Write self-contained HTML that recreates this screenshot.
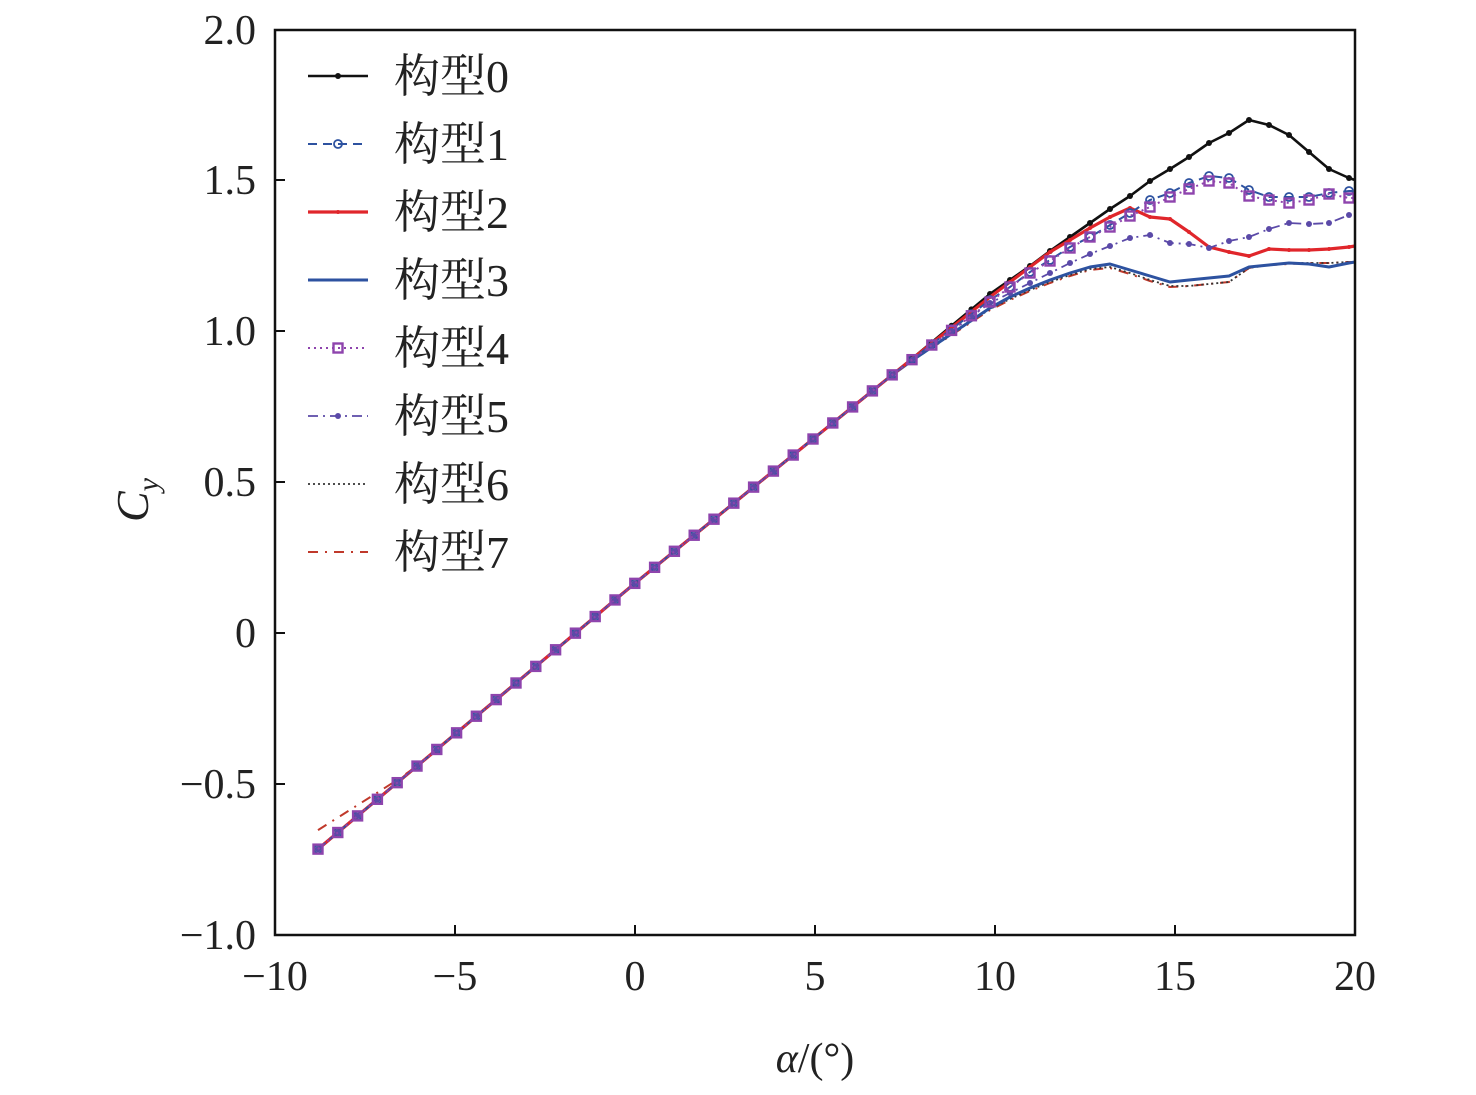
<!DOCTYPE html>
<html><head><meta charset="utf-8"><style>
html,body{margin:0;padding:0;background:#fff;}
svg text{font-family:"Liberation Serif","Times New Roman","Noto Serif CJK SC",serif;}
</style></head><body>
<svg id="s" width="1476" height="1090" viewBox="0 0 1476 1090" xmlns="http://www.w3.org/2000/svg">
<rect width="1476" height="1090" fill="#fff"/>
<g id="curves"></g>
<rect x="275" y="30" width="1080" height="905" fill="none" stroke="#111" stroke-width="2.5"/>
<g stroke="#111" stroke-width="2">
<line x1="275" y1="180" x2="285" y2="180"/><line x1="275" y1="331" x2="285" y2="331"/><line x1="275" y1="482" x2="285" y2="482"/><line x1="275" y1="633" x2="285" y2="633"/><line x1="275" y1="784" x2="285" y2="784"/>
<line x1="455" y1="935" x2="455" y2="925"/><line x1="635" y1="935" x2="635" y2="925"/><line x1="815" y1="935" x2="815" y2="925"/><line x1="995" y1="935" x2="995" y2="925"/><line x1="1175" y1="935" x2="1175" y2="925"/>
</g>
<g font-size="42" fill="#222" text-anchor="end">
<text x="256" y="44">2.0</text><text x="256" y="194">1.5</text><text x="256" y="345">1.0</text><text x="256" y="496">0.5</text><text x="256" y="647">0</text><text x="256" y="798">−0.5</text><text x="256" y="949">−1.0</text>
</g>
<g font-size="42" fill="#222" text-anchor="middle">
<text x="275" y="990">−10</text><text x="455" y="990">−5</text><text x="635" y="990">0</text><text x="815" y="990">5</text><text x="995" y="990">10</text><text x="1175" y="990">15</text><text x="1355" y="990">20</text>
<text x="815" y="1072"><tspan font-style="italic">α</tspan>/(°)</text>
</g>
<text x="148" y="500" font-size="46" fill="#222" transform="rotate(-90 148 500)" text-anchor="middle"><tspan font-style="italic">C</tspan><tspan font-style="italic" font-size="30" dy="10">y</tspan></text>
<g id="legend"></g>
</svg>
<script>
var NS="http://www.w3.org/2000/svg";
function el(t,a,p){var e=document.createElementNS(NS,t);for(var k in a)e.setAttribute(k,a[k]);p.appendChild(e);return e;}
function base(x){return x<634?584-0.839*(x-634):584-0.81*(x-634);}
var xs=[990,1010,1030,1050,1070,1090,1110,1130,1150,1170,1189,1209,1229,1249,1269,1289,1309,1329,1349,1355];
var D={
0:[294,280,266,251,237,223,209,196,181,169,157,143,133,120,125,135,152,169,178,180],
1:[300,287,272,260,247,237,225,213,200,193,183,176,178,190,197,197,197,193,191,191],
4:[302,287,273,261,248,237,227,216,207,197,189,181,183,196,200,203,200,194,198,198],
2:[297,282,267,252,240,228,217,208,217,219,232,247,252,256,249,250,250,249,247,246],
5:[303,293,283,273,263,254,246,238,235,243,244,248,241,237,229,223,224,223,215,213],
3:[308,297,288,280,273,267,264,270,276,282,280,278,276,267,265,263,264,267,263,262],
6:[309,299,290,282,275,269,267,273,280,286,286,284,282,268,265,263,263,263,262,262],
7:[310,300,291,283,276,270,268,274,281,287,286,284,282,268,265,264,263,263,262,262]
};
function pts(id){
 var P=[],off=D[id][0]-base(990);
 for(var k=0;;k++){var x=318+19.8*k;if(x>=985)break;var y=base(x);if(x>900)y+=off*(x-900)/90;
  if(id==7&&x<410)y-=19*(410-x)/92; P.push([x,y]);}
 for(var i=0;i<xs.length;i++)P.push([xs[i],D[id][i]]);
 return P;}
var S=[
{id:0,c:"#111",w:2.6,da:null,m:"dot"},
{id:7,c:"#c0392b",w:2,da:"10,7,2,7",m:null},
{id:6,c:"#333",w:1.8,da:"2,3",m:null},
{id:3,c:"#2d52a0",w:3,da:null,m:null},
{id:2,c:"#e0262b",w:3.2,da:null,m:"tick"},
{id:1,c:"#2d52a0",w:2,da:"9,6",m:"circ"},
{id:5,c:"#5b4aa8",w:1.8,da:"10,5,2,5",m:"dot"},
{id:4,c:"#8e44ad",w:2,da:"2,4",m:"sq"}
];
var g=document.getElementById("curves");
function marker(s,x,y,p){
 if(s.m=="dot")el("circle",{cx:x,cy:y,r:3,fill:s.c},p);
 else if(s.m=="circ")el("circle",{cx:x,cy:y,r:4,fill:"none",stroke:s.c,"stroke-width":1.8},p);
 else if(s.m=="sq")el("rect",{x:x-4.5,y:y-4.5,width:9,height:9,fill:"none",stroke:s.c,"stroke-width":2.4},p);
 else if(s.m=="tick")el("circle",{cx:x,cy:y,r:2,fill:s.c},p);
}
S.forEach(function(s){
 var P=pts(s.id),d="M"+P.map(function(p){return p[0].toFixed(1)+","+p[1].toFixed(1);}).join(" L");
 var a={d:d,fill:"none",stroke:s.c,"stroke-width":s.w,"stroke-linejoin":"round"};if(s.da)a["stroke-dasharray"]=s.da;
 el("path",a,g);
 if(s.m)P.forEach(function(p){if(p[0]<1355)marker(s,p[0],p[1],g);});
});
var L=document.getElementById("legend");
[0,1,2,3,4,5,6,7].forEach(function(id,i){
 var s=S.filter(function(q){return q.id==id;})[0],y=76+68*i;
 var a={x1:308,y1:y,x2:368,y2:y,stroke:s.c,"stroke-width":s.w};if(s.da)a["stroke-dasharray"]=s.da;
 el("line",a,L); if(s.m)marker(s,338,y,L);
 var t=el("text",{x:394,y:y+16,"font-size":46,fill:"#222"},L);t.textContent="构型"+id;
});
</script>
</body></html>
